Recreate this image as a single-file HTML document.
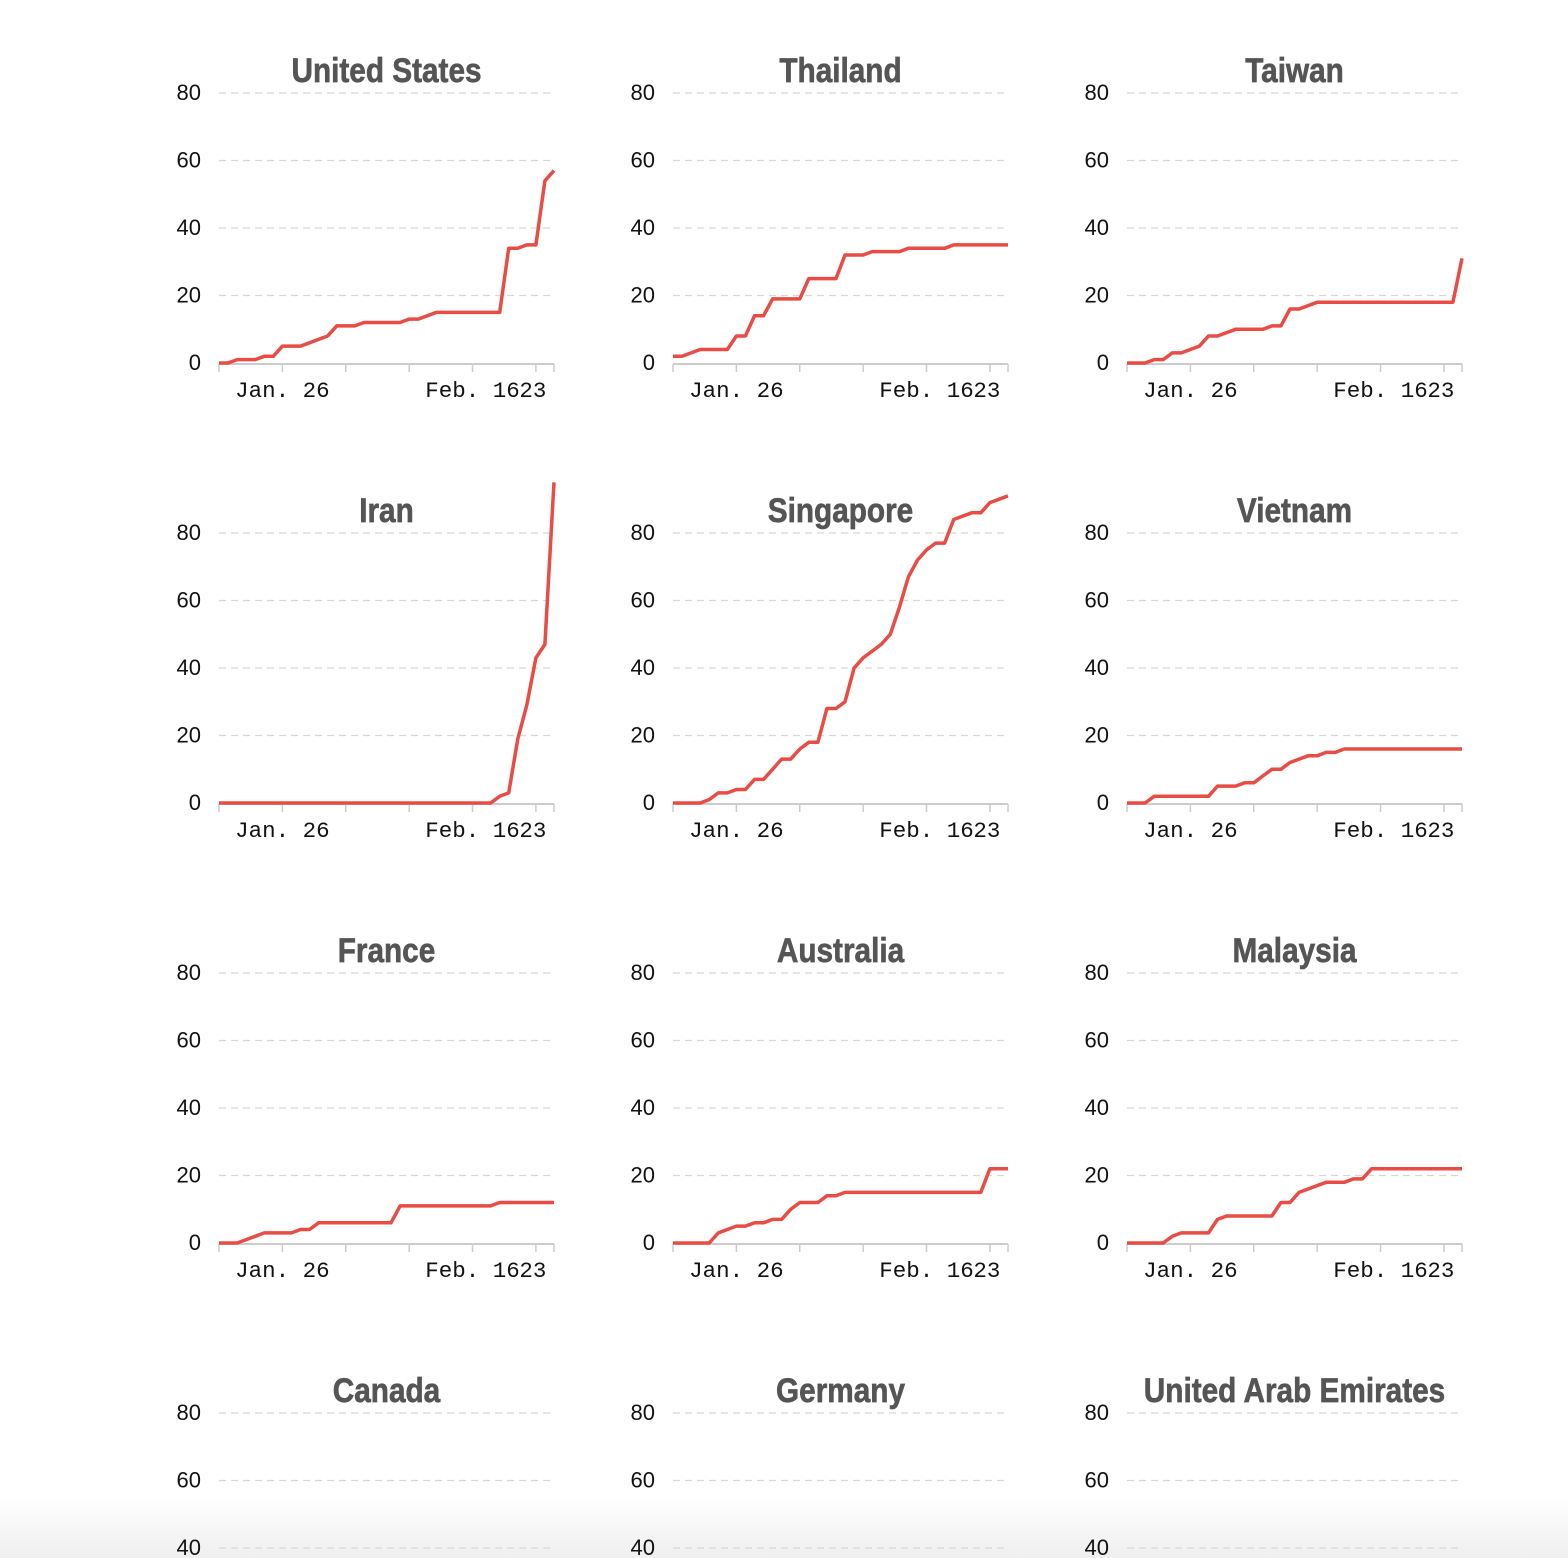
<!DOCTYPE html>
<html><head><meta charset="utf-8">
<style>
html,body{margin:0;padding:0;width:1568px;height:1558px;overflow:hidden;}
body{background:linear-gradient(to bottom,#fff 0px,#fff 1495px,#efefef 1558px);}
</style></head>
<body>
<svg id="chart" width="1568" height="1558" xmlns="http://www.w3.org/2000/svg" style="display:block"></svg>
<script>
const countries = ["United States","Thailand","Taiwan","Iran","Singapore","Vietnam","France","Australia","Malaysia","Canada","Germany","United Arab Emirates"];
const usValues = [0,0,1,1,1,2,2,5,5,5,6,7,8,11,11,11,12,12,12,12,12,13,13,14,15,15,15,15,15,15,15,15,34,34,35,35,54,57];
const thailandValues = [2,2,3,4,4,4,4,8,8,14,14,19,19,19,19,25,25,25,25,32,32,32,33,33,33,33,34,34,34,34,34,35,35,35,35,35,35,35];
const taiwanValues = [0,0,0,1,1,3,3,4,5,8,8,9,10,10,10,10,11,11,16,16,17,18,18,18,18,18,18,18,18,18,18,18,18,18,18,18,18,31];
const iranValues = [0,0,0,0,0,0,0,0,0,0,0,0,0,0,0,0,0,0,0,0,0,0,0,0,0,0,0,0,0,0,0,2,3,19,29,43,47,95];
const singaporeValues = [0,0,0,0,1,3,3,4,4,7,7,10,13,13,16,18,18,28,28,30,40,43,45,47,50,58,67,72,75,77,77,84,85,86,86,89,90,91];
const vietnamValues = [0,0,0,2,2,2,2,2,2,2,5,5,5,6,6,8,10,10,12,13,14,14,15,15,16,16,16,16,16,16,16,16,16,16,16,16,16,16];
const franceValues = [0,0,0,1,2,3,3,3,3,4,4,6,6,6,6,6,6,6,6,6,11,11,11,11,11,11,11,11,11,11,11,12,12,12,12,12,12,12];
const australiaValues = [0,0,0,0,0,3,4,5,5,6,6,7,7,10,12,12,12,14,14,15,15,15,15,15,15,15,15,15,15,15,15,15,15,15,15,22,22,22];
const malaysiaValues = [0,0,0,0,0,2,3,3,3,3,7,8,8,8,8,8,8,12,12,15,16,17,18,18,18,19,19,22,22,22,22,22,22,22,22,22,22,22];
const canadaValues = [0,0,0,0,0,0,0,1,1,2,3,3,4,4,4,4,4,5,5,5,7,7,7,7,7,7,7,7,8,8,8,8,8,8,9,9,10,11];
const germanyValues = [0,0,0,0,0,0,0,0,1,4,4,5,7,8,10,12,12,12,13,14,14,14,14,16,16,16,16,16,16,16,16,16,16,16,16,16,16,16];
const uaeValues = [0,0,0,0,0,0,0,0,0,4,4,4,4,5,5,5,5,5,5,5,7,7,7,8,8,8,8,9,9,9,9,9,11,13,13,13,13,13];
const series = [usValues,thailandValues,taiwanValues,iranValues,singaporeValues,vietnamValues,franceValues,australiaValues,malaysiaValues,canadaValues,germanyValues,uaeValues];
const yTicks = [0,20,40,60,80];
const xTickDays = [0,7,14,21,28,35,37];
const xLabels = ["Jan. 26","Feb. 16","23"];
const xLabelDays = [7,28,35];
const slugs = ["united-states","thailand","taiwan","iran","singapore","vietnam","france","australia","malaysia","canada","germany","uae"];

const NS = "http://www.w3.org/2000/svg";
const svg = document.getElementById("chart");
function mk(tag, attrs, parent){ const e=document.createElementNS(NS,tag); for(const k in attrs) e.setAttribute(k,attrs[k]); (parent||svg).appendChild(e); return e; }

const H = 1558;
const plotW = 335, plotH = 270, nDays = 37;
for (let i=0;i<countries.length;i++){
  const col=i%3, row=Math.floor(i/3);
  const ox = 219 + col*454, oy = 93 + row*440;
  const xs = d => ox + d/nDays*plotW;
  const ys = v => oy + plotH - v/80*plotH;
  const g = mk("g",{});
  
  
  const cx = ox+plotW/2;
  const t = mk("text",{x:0, y:0, transform:"translate("+cx+","+(oy-11)+") scale(0.93,1.08)", "text-anchor":"middle", "font-family":"'Liberation Sans',sans-serif", "font-weight":"bold", "font-size":"32", fill:"#555", stroke:"#555", "stroke-width":"0.6"}, g);
  t.textContent = countries[i];
  
  
  for (const v of yTicks){
    if (ys(v) > H-4) continue;
    if (v>0){
      const gl = mk("line",{x1:ox, x2:ox+plotW-4, y1:ys(v), y2:ys(v), stroke:"#d8d8d8", "stroke-width":"1.2", "stroke-dasharray":"7 5"}, g);
      
      
    }
    const yl = mk("text",{x:ox-18, y:ys(v)+7, "text-anchor":"end", "font-family":"'Liberation Sans',sans-serif", "font-size":"22", fill:"#111"}, g);
    yl.textContent = v;
    
    
  }
  if (ys(0) > H) continue;
  const ax = mk("line",{x1:ox, x2:ox+plotW, y1:ys(0)+1, y2:ys(0)+1, stroke:"#ccc", "stroke-width":"2"}, g);
  
  
  for (const d of xTickDays){
    const tk = mk("line",{x1:xs(d), x2:xs(d), y1:ys(0)+1, y2:ys(0)+9, stroke:"#ccc", "stroke-width":"1.5"}, g);
    
    
  }
  for (let k=0;k<xLabels.length;k++){
    const xl = mk("text",{x:xs(xLabelDays[k]) - (k===2?3:0), y:ys(0)+34, "text-anchor":"middle", "font-family":"'Liberation Mono',monospace", "font-size":"22.5", fill:"#111"}, g);
    xl.textContent = xLabels[k];
    
    
  }
  const pts = series[i].map((v,d)=>xs(d).toFixed(1)+","+ys(v).toFixed(1)).join(" ");
  const pl = mk("polyline",{points:pts, fill:"none", stroke:"#e84c44", "stroke-width":"3.5", "stroke-linejoin":"round"}, g);
  
  
}
</script>
</body></html>
